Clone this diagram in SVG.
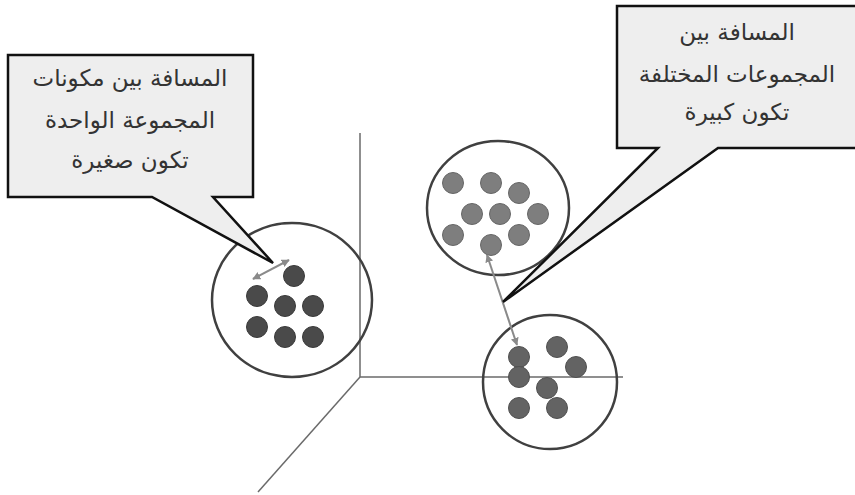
<svg xmlns="http://www.w3.org/2000/svg" width="855" height="495" viewBox="0 0 855 495">
  <style>
    .axis { stroke: #6a6a6a; stroke-width: 1.5; fill: none; }
    .cluster { fill: none; stroke: #404040; stroke-width: 2.5; }
    .callout { fill: #eeeeee; stroke: #111111; stroke-width: 2.5; stroke-linejoin: miter; }
    .label { font-family: "DejaVu Sans", "Liberation Sans", sans-serif; font-size: 23px; fill: #333333; text-anchor: middle; }
    .dist { stroke: #8a8a8a; stroke-width: 2; fill: none; marker-start: url(#tip); marker-end: url(#tip); }
    .d1 { fill: #4a4a4a; stroke: #3a3a3a; stroke-width: 1; }
    .d2 { fill: #7e7e7e; stroke: #666666; stroke-width: 1; }
    .d3 { fill: #636363; stroke: #505050; stroke-width: 1; }
  </style>
  <defs>
    <marker id="tip" viewBox="0 0 10 10" refX="9" refY="5" markerWidth="4" markerHeight="4" orient="auto-start-reverse">
      <path d="M0,0 L10,5 L0,10 Z" fill="#8a8a8a"/>
    </marker>
  </defs>
  <rect width="855" height="495" fill="#ffffff"/>

  <!-- coordinate axes -->
  <g id="axes">
    <line class="axis" x1="360" y1="133" x2="360" y2="377"/>
    <line class="axis" x1="360" y1="377" x2="623" y2="377"/>
    <line class="axis" x1="360" y1="377" x2="258" y2="492" stroke="#9a9a9a"/>
  </g>

  <!-- cluster A: compact group -->
  <g id="cluster-a">
    <ellipse class="cluster" cx="292" cy="300" rx="80" ry="77"/>
    <circle class="d1" cx="294" cy="276" r="10.5"/>
    <circle class="d1" cx="257" cy="296" r="10.5"/>
    <circle class="d1" cx="285" cy="306" r="10.5"/>
    <circle class="d1" cx="313" cy="306" r="10.5"/>
    <circle class="d1" cx="257" cy="327" r="10.5"/>
    <circle class="d1" cx="285" cy="337" r="10.5"/>
    <circle class="d1" cx="313" cy="337" r="10.5"/>
  </g>

  <!-- cluster B: upper right group -->
  <g id="cluster-b">
    <ellipse class="cluster" cx="498" cy="208" rx="71" ry="67"/>
    <circle class="d2" cx="453" cy="183" r="10.5"/>
    <circle class="d2" cx="491" cy="183" r="10.5"/>
    <circle class="d2" cx="519" cy="193" r="10.5"/>
    <circle class="d2" cx="472" cy="214" r="10.5"/>
    <circle class="d2" cx="500" cy="214" r="10.5"/>
    <circle class="d2" cx="538" cy="214" r="10.5"/>
    <circle class="d2" cx="453" cy="235" r="10.5"/>
    <circle class="d2" cx="519" cy="235" r="10.5"/>
    <circle class="d2" cx="491" cy="245" r="10.5"/>
  </g>

  <!-- cluster C: lower right group -->
  <g id="cluster-c">
    <ellipse class="cluster" cx="550" cy="382" rx="67" ry="67"/>
    <circle class="d3" cx="519" cy="357" r="10.5"/>
    <circle class="d3" cx="557" cy="347" r="10.5"/>
    <circle class="d3" cx="576" cy="367" r="10.5"/>
    <circle class="d3" cx="519" cy="377" r="10.5"/>
    <circle class="d3" cx="547" cy="388" r="10.5"/>
    <circle class="d3" cx="519" cy="408" r="10.5"/>
    <circle class="d3" cx="557" cy="408" r="10.5"/>
  </g>

  <!-- distance arrows -->
  <g id="connectors">
    <line class="dist" x1="253" y1="279" x2="289" y2="260"/>
    <line class="dist" x1="487" y1="255" x2="517" y2="345"/>
  </g>

  <!-- callout: within-cluster distance -->
  <g id="callout-left">
    <path class="callout" d="M8,55 H253 V197 H213 L273,263 L152,197 H8 Z"/>
    <text class="label" x="130" y="86" direction="rtl">المسافة بين مكونات</text>
    <text class="label" x="130" y="128" direction="rtl">المجموعة الواحدة</text>
    <text class="label" x="130" y="168" direction="rtl">تكون صغيرة</text>
  </g>

  <!-- callout: between-cluster distance -->
  <g id="callout-right">
    <path class="callout" d="M617,6 H862 V148 H718 L503,302 L658,148 H617 Z"/>
    <text class="label" x="737" y="40" direction="rtl">المسافة بين</text>
    <text class="label" x="737" y="82" direction="rtl">المجموعات المختلفة</text>
    <text class="label" x="737" y="120" direction="rtl">تكون كبيرة</text>
  </g>
</svg>
